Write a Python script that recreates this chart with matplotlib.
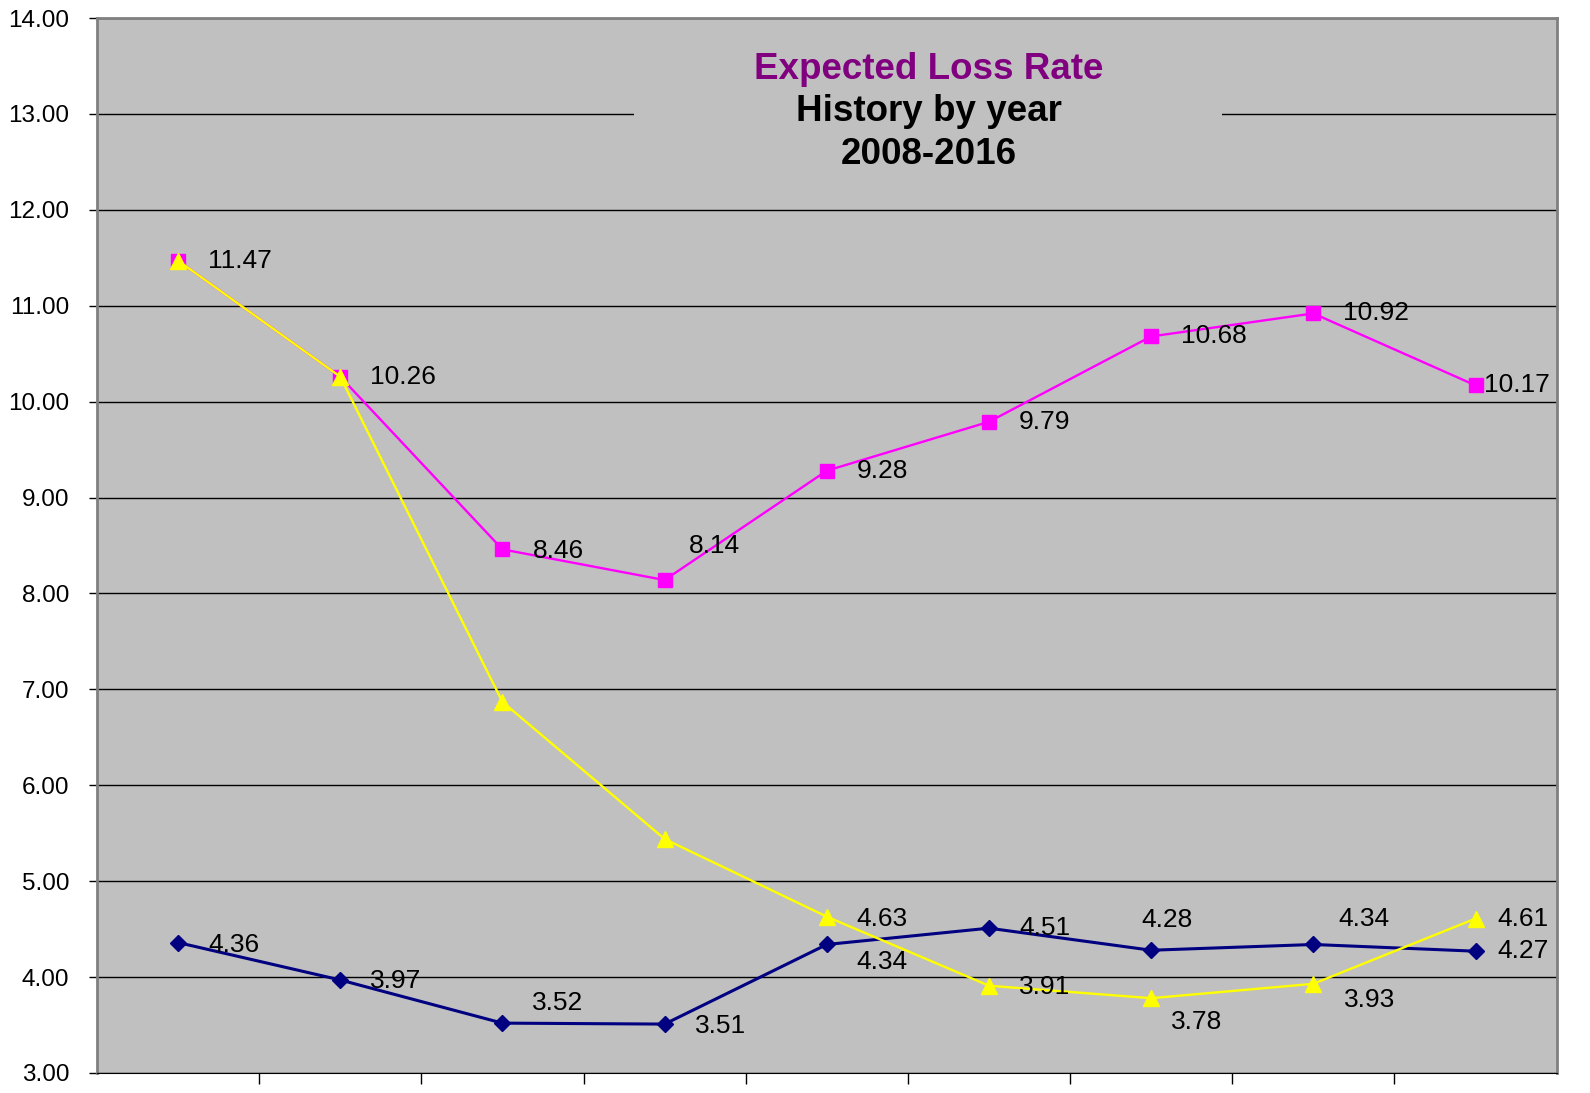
import matplotlib
matplotlib.use("Agg")
import matplotlib.pyplot as plt
from matplotlib.patches import Rectangle

plt.rcParams["font.family"] = ["Liberation Sans", "DejaVu Sans"]

years = ["2008", "2009", "2010", "2011", "2012", "2013", "2014", "2015", "2016"]
magenta_vals = [11.47, 10.26, 8.46, 8.14, 9.28, 9.79, 10.68, 10.92, 10.17]
yellow_vals = [11.47, 10.26, 6.87, 5.44, 4.63, 3.91, 3.78, 3.93, 4.61]
navy_vals = [4.36, 3.97, 3.52, 3.51, 4.34, 4.51, 4.28, 4.34, 4.27]
yticks = [3, 4, 5, 6, 7, 8, 9, 10, 11, 12, 13, 14]

# label offsets in pixels (dx to text left edge, dy to text centre)
magenta_off = [(30, 0), (30, 0), (30, -2), (24, 34), (30, 0), (30, 0), (30, 0), (30, 0), (8, 0)]
navy_off = [(30, -2), (30, -1), (30, 20), (30, -2), (30, -18), (30, 0), (-10, 30), (25, 25), (22, 0)]
yellow_off = {4: (30, -2), 5: (30, -1), 6: (20, -24), 7: (31, -16), 8: (22, 0)}

fig = plt.figure(figsize=(15.9, 10.93), dpi=100)
ax = fig.add_axes([0.061, 0.0183, 0.918, 0.9652])
ax.set_facecolor("#C0C0C0")

x = list(range(len(years)))
ax.plot(x, navy_vals, color="#000080", lw=2.2, marker="D", ms=8.5, zorder=4)
ax.plot(x, magenta_vals, color="#FF00FF", lw=1.7, marker="s", ms=10, zorder=5)
ax.plot(x, yellow_vals, color="#FFFF00", lw=1.7, marker="^", ms=11, zorder=6)

def label(i, v, off):
    ax.annotate(f"{v:.2f}", (i, v), xytext=off, textcoords="offset pixels",
                ha="left", va="center", fontsize=19, color="black", zorder=7)

for i, v in enumerate(magenta_vals):
    label(i, v, magenta_off[i])
for i, v in enumerate(navy_vals):
    label(i, v, navy_off[i])
for i, off in yellow_off.items():
    label(i, yellow_vals[i], off)

ax.set_xlim(-0.5, len(years) - 0.5)
ax.set_ylim(3, 14)
ax.set_yticks(yticks)
ax.set_yticklabels([f"{t:.2f}" for t in yticks], fontsize=17.5)
ax.set_xticks([i + 0.5 for i in range(len(years) - 1)])
ax.set_xticklabels([])
ax.tick_params(axis="x", direction="out", length=8, width=1, color="black")
ax.tick_params(axis="y", direction="out", length=6, width=1, color="black", pad=14)
ax.grid(axis="y", color="black", lw=1, zorder=1)
ax.set_axisbelow(True)
for side in ("left", "top", "right"):
    ax.spines[side].set_color("#808080")
    ax.spines[side].set_linewidth(2)
ax.spines["bottom"].set_color("black")

# title box
ax.add_patch(Rectangle((0.368, 0.835), 0.4025, 0.12, transform=ax.transAxes,
                       facecolor="#C0C0C0", edgecolor="none", zorder=2))
ax.text(0.57, 0.951, "Expected Loss Rate", transform=ax.transAxes, ha="center",
        va="center", fontsize=26.5, fontweight="bold", color="#800080", zorder=3)
ax.text(0.57, 0.911, "History by year", transform=ax.transAxes, ha="center",
        va="center", fontsize=26.5, fontweight="bold", color="black", zorder=3)
ax.text(0.57, 0.871, "2008-2016", transform=ax.transAxes, ha="center",
        va="center", fontsize=26.5, fontweight="bold", color="black", zorder=3)

fig.savefig("out.png", dpi=100)
